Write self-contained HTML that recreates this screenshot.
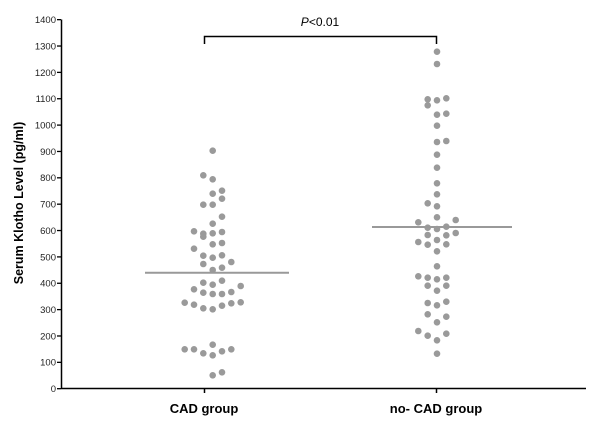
<!DOCTYPE html>
<html><head><style>body{margin:0;background:#fff}</style></head><body>
<svg width="600" height="424" xmlns="http://www.w3.org/2000/svg" font-family="Liberation Sans, sans-serif">
<rect width="600" height="424" fill="#fff"/>
<g stroke="#000" stroke-width="1.5">
<line x1="61.5" y1="19.5" x2="61.5" y2="389"/>
<line x1="61" y1="388.5" x2="586" y2="388.5"/>
<line x1="204.5" y1="388" x2="204.5" y2="393"/>
<line x1="436.5" y1="388" x2="436.5" y2="393"/>
</g>
<g id="ticks" stroke="#000" stroke-width="1.3"></g>
<g id="labels" font-size="9.5" text-anchor="end" fill="#222"></g>
<text transform="translate(23,203) rotate(-90)" text-anchor="middle" font-size="12.5" font-weight="bold">Serum Klotho Level (pg/ml)</text>
<text x="204" y="413" text-anchor="middle" font-size="13" font-weight="bold">CAD group</text>
<text x="436" y="413" text-anchor="middle" font-size="13" font-weight="bold">no- CAD group</text>
<path d="M204.5,44 V36.5 H436.5 V44" fill="none" stroke="#000" stroke-width="1.5"/>
<text x="320" y="26" text-anchor="middle" font-size="12"><tspan font-style="italic">P</tspan>&lt;0.01</text>
<g fill="#9a9a9a" id="dots"></g>
<line x1="145" y1="272.7" x2="289" y2="272.7" stroke="#999" stroke-width="2"/>
<line x1="372" y1="227" x2="512" y2="227" stroke="#999" stroke-width="2"/>
<script>
var t=document.getElementById('ticks'),l=document.getElementById('labels'),ns='http://www.w3.org/2000/svg';
for(var v=0;v<=1400;v+=100){var y=388.7-v*0.2636;var e=document.createElementNS(ns,'line');e.setAttribute('x1',57);e.setAttribute('x2',61);e.setAttribute('y1',y);e.setAttribute('y2',y);t.appendChild(e);
var s=document.createElementNS(ns,'text');s.setAttribute('x',56);s.setAttribute('y',y+3.4);s.textContent=v;l.appendChild(s);}
var d=[[212.7,150.7],[203.3,175.3],[212.7,179.3],[212.7,193.7],[222,190.7],[222,198.7],[203.3,204.7],[212.7,204.7],[222,216.7],[212.7,223.7],[194,231.3],[203.3,233.7],[203.3,236.7],[212.7,233.3],[222,232],[212.7,244.3],[222,243],[194,248.7],[203.3,255.7],[212.7,257.7],[222,255.3],[203.3,264],[231.3,262],[212.7,270],[222,267.7],[203.3,282.7],[212.7,284.7],[222,280.7],[240.7,286],[194,289.3],[203.3,292.7],[212.7,294],[222,294],[231.3,292],[184.7,302.7],[194,304.7],[203.3,308.3],[212.7,309.3],[222,305.7],[231.3,303.3],[240.7,302.3],[184.7,349.3],[194,349.3],[203.3,353.3],[212.7,344.7],[212.7,355.3],[222,351.3],[231.3,349.3],[212.7,375.3],[222,372.3],
[437,51.7],[437,64],[427.7,99.3],[427.7,105.3],[437,100.3],[446.3,98.3],[437,114.7],[446.3,113.7],[437,125.7],[437,142],[446.3,141],[437,154.7],[437,167.7],[437,183.3],[437,194.3],[427.7,203.3],[437,206.3],[437,217.3],[455.7,220],[418.3,222.3],[427.7,227.7],[437,229],[446.3,226.7],[427.7,235],[446.3,235.3],[455.7,233],[418.3,242],[427.7,244.7],[437,240],[446.3,244.3],[437,251.3],[437,266.3],[418.3,276.3],[427.7,277.7],[437,279.3],[446.3,277.7],[427.7,285.7],[446.3,285.7],[437,290.7],[427.7,303],[437,305.3],[446.3,301.7],[427.7,314.3],[446.3,316.7],[437,322.3],[418.3,331],[427.7,335.7],[437,340.3],[446.3,333.7],[437,353.7]];
var g=document.getElementById('dots');d.forEach(function(p){var c=document.createElementNS(ns,'circle');c.setAttribute('cx',p[0]);c.setAttribute('cy',p[1]);c.setAttribute('r',3.3);g.appendChild(c);});
</script>
</svg>
</body></html>
